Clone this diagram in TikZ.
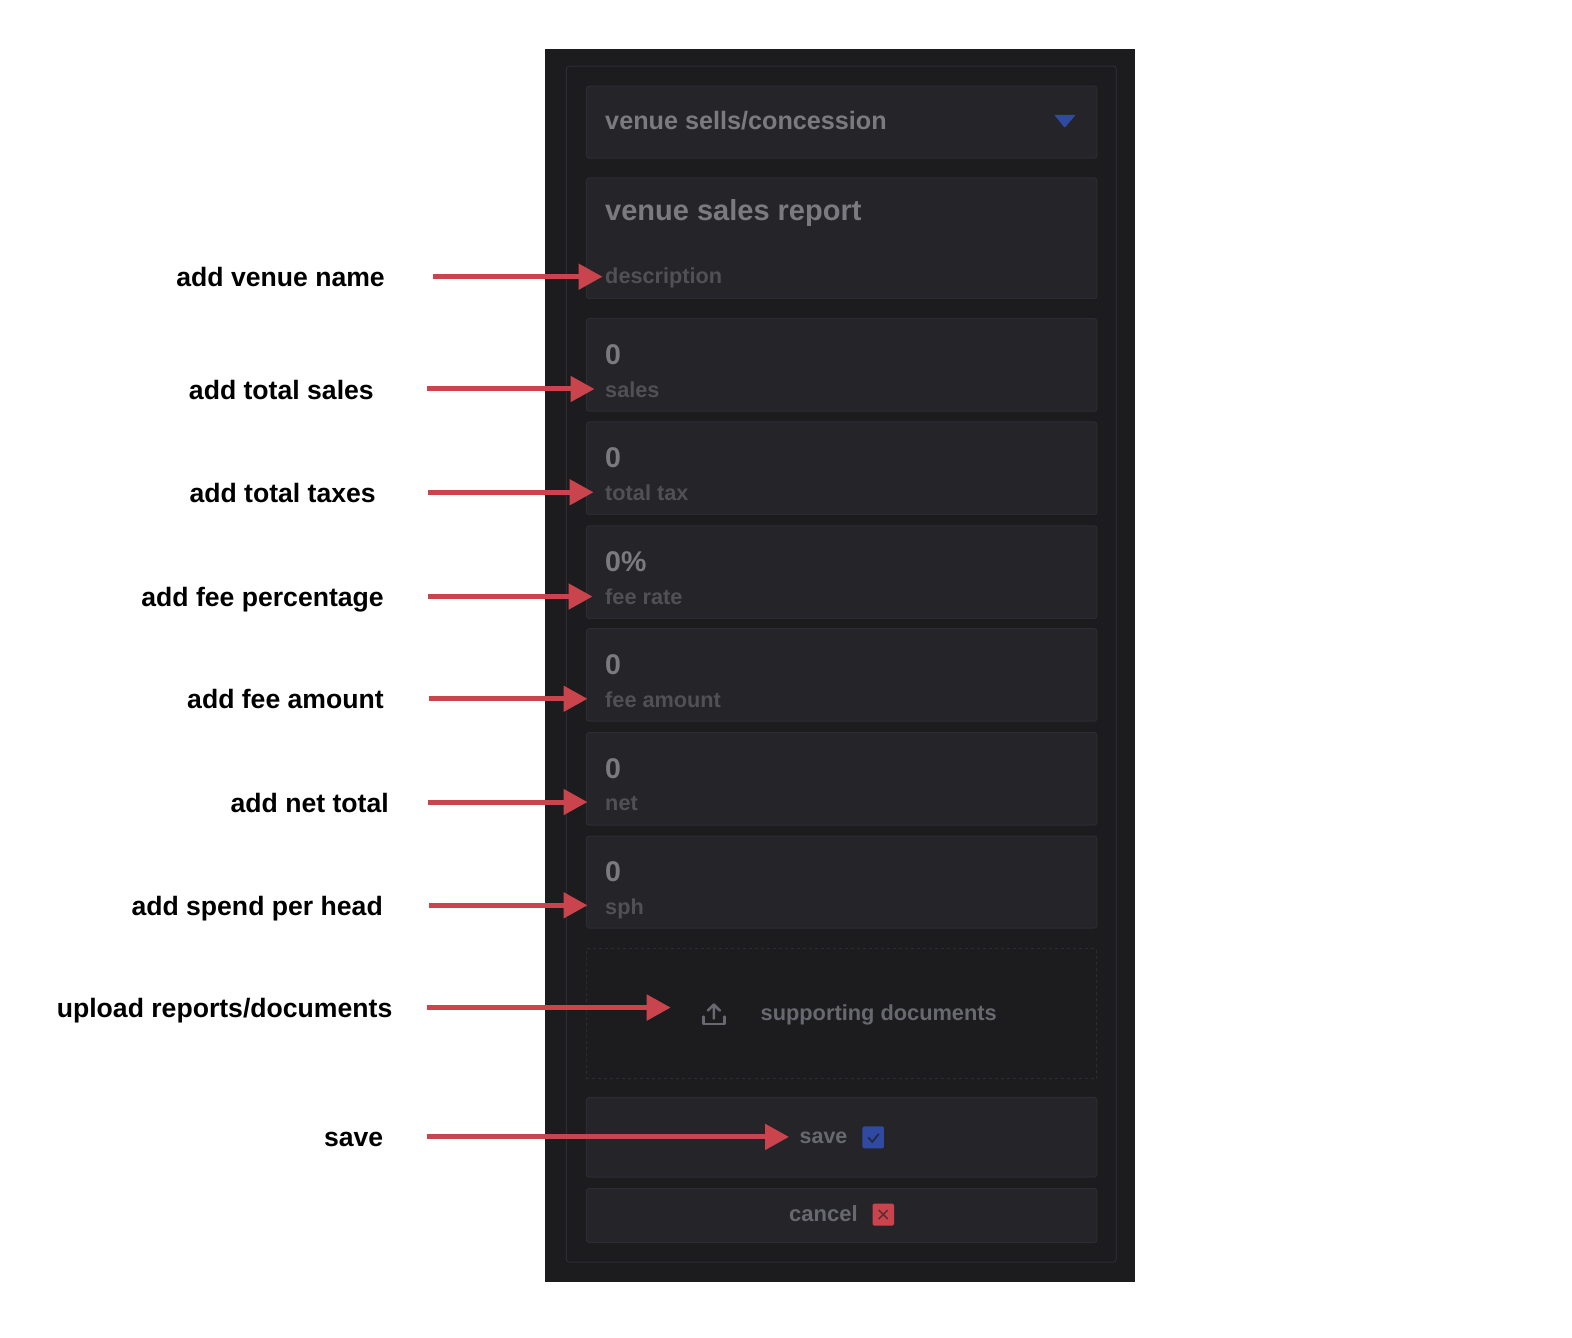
\documentclass[tikz,border=0pt]{standalone}
\usepackage{fontspec}
\setmainfont{Liberation Sans}
\newfontfamily\medfont{Liberation Sans Bold}
\usetikzlibrary{arrows.meta}
\definecolor{panel}{HTML}{1C1C1E}
\definecolor{card}{HTML}{252529}
\definecolor{edge}{HTML}{2C2C33}
\definecolor{big}{HTML}{7A7A80}
\definecolor{small}{HTML}{505055}
\definecolor{updoc}{HTML}{686871}
\definecolor{red}{HTML}{C9444D}
\definecolor{blue}{HTML}{2F4AA0}
\tikzset{
  x=1.00255bp,y=-1.00255bp,
  cardbox/.style={draw=edge,fill=card,line width=1bp,rounded corners=2.5bp},
  note/.style={font=\fontsize{26.6bp}{30bp}\selectfont\bfseries,text=black,inner sep=0pt,anchor=base east},
  bigtext/.style={text=big,inner sep=0pt,anchor=base west,font=\medfont\fontsize{28.5bp}{30bp}\selectfont},
  hint/.style={text=small,inner sep=0pt,anchor=base west,font=\medfont\fontsize{21.7bp}{26bp}\selectfont},
  pointer/.style={draw=red,line width=5bp,-{Triangle[length=24bp,width=25bp,fill=red]}},
}
\newcommand{\fieldcard}[5]{% name, top, bottom, value, hint
  \node[cardbox,minimum width=510.3bp,minimum height=#3bp-#2bp,inner sep=0pt,anchor=north west] (#1) at (584.5,#2) {};
  \node[bigtext] (#1v) at (603.5,#2+46) {#4};
  \node[hint] (#1h) at (603.5,#2+78.7) {#5};
}
\newcommand{\callout}[6]{% name, label, label right, arrow y, start x, end x
  \node[note] (#1n) at (#3,#4+10) {#2};
  \coordinate (#1a) at (#5,#4);
  \coordinate (#1b) at (#6,#4);
  \draw[pointer] (#1a) -- (#1b);
}
\begin{document}
\begin{tikzpicture}
\useasboundingbox (0,0) rectangle (1568,1334.6);
\fill[panel] (544,49) rectangle (1132,1279);
\draw[edge,line width=1bp,rounded corners=3bp,fill=panel] (565,66) rectangle (1113.5,1259);
% dropdown
\node[cardbox,minimum width=510.3bp,minimum height=72bp,inner sep=0pt,anchor=north west] (drop) at (584.5,85.5) {};
\node[text=big,inner sep=0pt,anchor=base west,font=\medfont\fontsize{25.2bp}{30bp}\selectfont] (dropt) at (603.5,129.5) {venue sells/concession};
\fill[blue,rounded corners=1bp] (1051.5,114.5) -- (1073,114.5) -- (1062,127.5) -- cycle;
% report card
\node[cardbox,minimum width=510.3bp,minimum height=120.5bp,inner sep=0pt,anchor=north west] (rep) at (584.5,177) {};
\node[text=big,inner sep=0pt,anchor=base west,font=\medfont\fontsize{29bp}{32bp}\selectfont] (rept) at (603.5,219.5) {venue sales report};
\node[hint] (repd) at (603.5,283) {description};
% fields
\fieldcard{f1}{317.4}{409.9}{0}{sales}
\fieldcard{f2}{420.4}{512.9}{0}{total tax}
\fieldcard{f3}{524}{616.5}{0\%}{fee rate}
\fieldcard{f4}{626.6}{719}{0}{fee amount}
\fieldcard{f5}{730.2}{822.7}{0}{net}
\fieldcard{f6}{833.4}{925.4}{0}{sph}
% upload
\node[draw=edge,dashed,dash pattern=on 3bp off 3bp,line width=1bp,fill=panel,minimum width=510.3bp,minimum height=129.3bp,inner sep=0pt,anchor=north west] (up) at (584.5,946) {};
\draw[updoc,line width=2.6bp,line cap=round,line join=round] (701.5,1014) -- (701.5,1021.5) -- (722.5,1021.5) -- (722.5,1014);
\draw[updoc,line width=2.6bp,line cap=round,line join=round] (712,1016) -- (712,1002) (706,1008) -- (712,1002) -- (718,1008);
\node[text=updoc,inner sep=0pt,anchor=base west,font=\medfont\fontsize{21.8bp}{28bp}\selectfont] (upt) at (758.5,1018) {supporting documents};
% save
\node[cardbox,minimum width=510.3bp,minimum height=79.5bp,inner sep=0pt,anchor=north west] (sv) at (584.5,1094.2) {};
\node[text=updoc,inner sep=0pt,anchor=base west,font=\medfont\fontsize{21.4bp}{26bp}\selectfont] (svt) at (797.5,1140.5) {save};
\node[fill=blue,rounded corners=1.5bp,minimum width=21.5bp,minimum height=22bp,inner sep=0pt] (svb) at (871,1134.5) {};
\draw[panel!70!blue,line width=1.8bp] (866,1134.5) -- (870,1139) -- (876.5,1131);
% cancel
\node[cardbox,minimum width=510.3bp,minimum height=54bp,inner sep=0pt,anchor=north west] (cn) at (584.5,1185) {};
\node[text=updoc,inner sep=0pt,anchor=base west,font=\medfont\fontsize{22bp}{26bp}\selectfont] (cnt) at (787,1218) {cancel};
\node[fill=red,rounded corners=1.5bp,minimum width=21.5bp,minimum height=22bp,inner sep=0pt] (cnb) at (881,1211.5) {};
\draw[panel!60!red,line width=1.6bp] (876.5,1207) -- (885.5,1216) (885.5,1207) -- (876.5,1216);
% callouts
\callout{c1}{add venue name}{384}{276}{432}{601}
\callout{c2}{add total sales}{373}{388}{426}{593}
\callout{c3}{add total taxes}{375}{491}{427}{592}
\callout{c4}{add fee percentage}{383}{595}{427}{591}
\callout{c5}{add fee amount}{383}{697}{428}{586}
\callout{c6}{add net total}{388}{800}{427}{586}
\callout{c7}{add spend per head}{382}{903}{428}{586}
\callout{c8}{upload reports/documents}{391.5}{1005}{426}{669}
\callout{c9}{save}{382.5}{1134}{426}{787}
\end{tikzpicture}
\end{document}
